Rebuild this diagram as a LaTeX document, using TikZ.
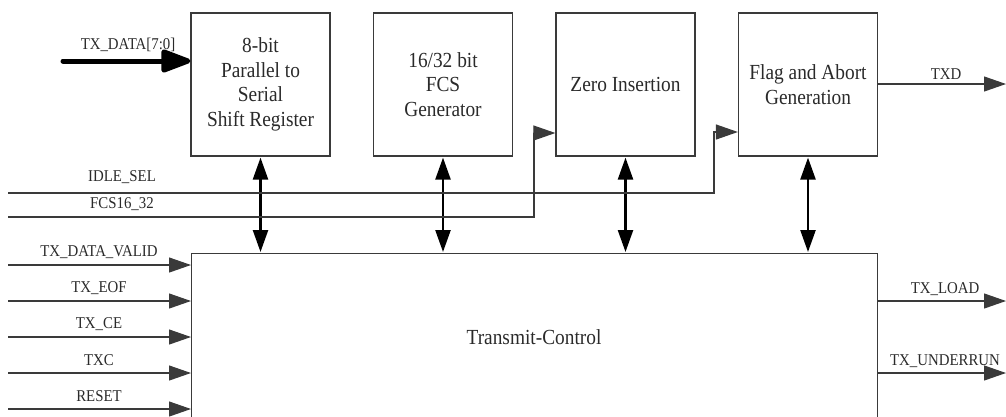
\documentclass[tikz,border=0pt]{standalone}
\usepackage{fontspec}
\setmainfont{Liberation Serif}[FakeStretch=0.9]
\usetikzlibrary{arrows.meta,calc}
\definecolor{ln}{HTML}{3A3A3A}
\definecolor{tx}{HTML}{2A2A2A}
\tikzset{
  blk/.style={draw=ln, line width=1.2pt, minimum width=139pt, minimum height=143pt, inner sep=0pt, align=center, text=tx, font=\fontsize{21.5}{24.5}\selectfont},
  lbl/.style={text=tx, font=\fontsize{16.5}{18}\selectfont, inner sep=1pt},
  thinline/.style={draw=ln, line width=1.1pt},
  inarrow/.style={thinline, -{Triangle[length=22pt,width=15pt]}},
  bidir/.style={draw=black, line width=2.4pt, {Triangle[length=22pt,width=15pt]}-{Triangle[length=22pt,width=15pt]}, shorten <=1pt, shorten >=1pt},
  busarrow/.style={draw=black, line width=5pt, line cap=round, -{Triangle[length=34pt,width=24pt,round=false]}}
}
\begin{document}
\begin{tikzpicture}[x=1pt,y=-1pt]
\useasboundingbox (0,0) rectangle (1006,416);
% blocks
\node[blk] (b1) at (260.5,84.5) {8-bit\\Parallel to\\Serial\\Shift Register};
\node[blk] (b2) at (443,84.5) {16/32 bit\\FCS\\Generator};
\node[blk] (b3) at (625.5,84.5) {Zero Insertion};
\node[blk] (b4) at (808,84.5) {Flag and Abort\\Generation};
\node[draw=ln, line width=1.2pt, minimum width=686pt, minimum height=170pt, inner sep=0pt, anchor=north west] (tc) at (191,253) {};
\node[text=tx, font=\fontsize{21.5}{24.5}\selectfont] (tcl) at (534,337) {Transmit-Control};
% bus input
\coordinate (busin) at (63,61);
\draw[busarrow] (busin) -- (busin -| b1.west);
\node[lbl] (lbus) at (128,45) {TX\_DATA[7:0]};
% TXD
\coordinate (txd) at (1006,84);
\draw[inarrow] (b4.east |- txd) -- (txd);
\node[lbl] (ltxd) at (946,74) {TXD};
% bidirectional arrows
\foreach \b in {b1,b2,b3,b4}{
  \draw[bidir] (\b.south) -- (\b.south |- tc.north);
}
% IDLE_SEL
\coordinate (idle) at (8,193);
\coordinate (k1) at (714,193);
\coordinate (t4) at ($(b4.west)+(0,47.5)$);
\draw[inarrow] (idle) -- (k1) |- (t4);
\node[lbl] (lidle) at (122,177) {IDLE\_SEL};
% FCS16_32
\coordinate (fcs) at (8,217);
\coordinate (k2) at (534,217);
\coordinate (t3) at ($(b3.west)+(0,48.5)$);
\draw[inarrow] (fcs) -- (k2) |- (t3);
\node[lbl] (lfcs) at (122,204) {FCS16\_32};
% left inputs
\foreach \y/\n/\t in {265/i1/TX\_DATA\_VALID,301/i2/TX\_EOF,337/i3/TX\_CE,373/i4/TXC,409/i5/RESET}{
  \coordinate (\n) at (8,\y);
  \draw[inarrow] (\n) -- (\n -| tc.west);
  \node[lbl] (l\n) at (99,\y-13) {\t};
}
% right outputs
\coordinate (o1) at (1006,301);
\coordinate (o2) at (1006,373);
\draw[inarrow] (o1 -| tc.east) -- (o1);
\draw[inarrow] (o2 -| tc.east) -- (o2);
\node[lbl] (lo1) at (945,289) {TX\_LOAD};
\node[lbl] (lo2) at (945,361) {TX\_UNDERRUN};
\end{tikzpicture}
\end{document}
